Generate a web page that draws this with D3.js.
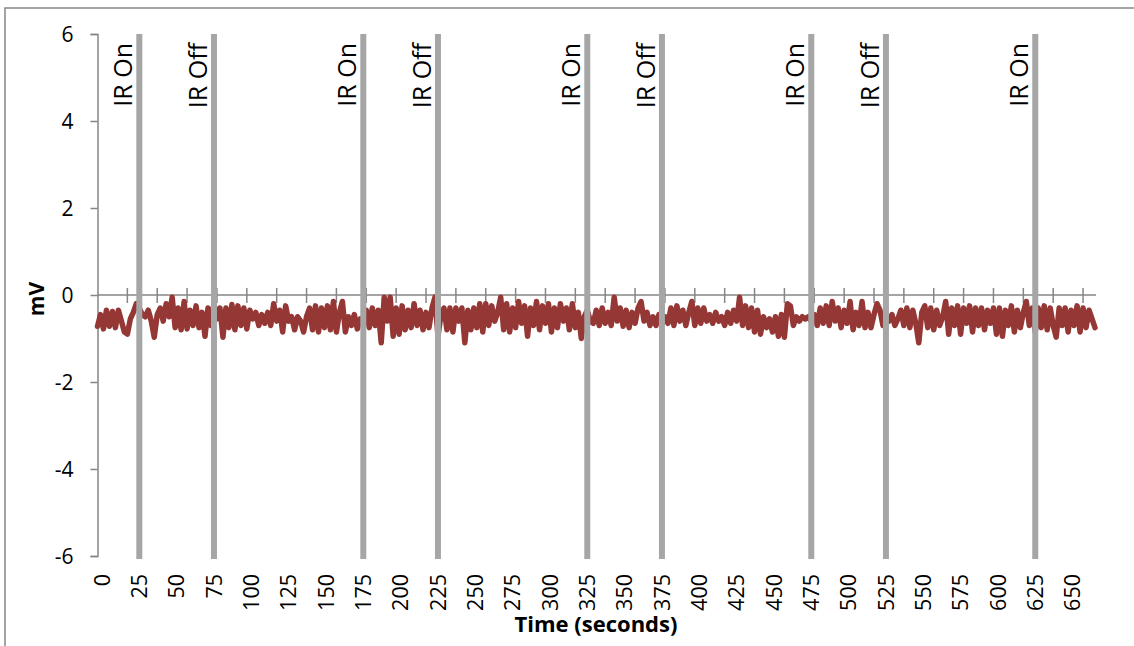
<!DOCTYPE html>
<html>
<head>
<meta charset="utf-8">
<script src="https://cdn.jsdelivr.net/npm/d3@7"></script>
<style>
  html, body { margin: 0; padding: 0; background: #ffffff; }
  svg { display: block; }
  text { font-family: "Open Sans", "Liberation Sans", sans-serif; fill: #000; }
</style>
</head>
<body>
<svg id="chart" width="1134" height="646"></svg>
<script>
// ---- data ----
const sampleStart = -3;   // seconds, first sample
const sampleStep = 2;     // seconds between samples
const mvValues = [
  -0.72,-0.45,-0.78,-0.35,-0.72,-0.38,-0.75,-0.35,-0.6,-0.85,-0.9,-0.55,
  -0.4,-0.2,-0.3,-0.45,-0.5,-0.35,-0.6,-0.97,-0.45,-0.3,
  -0.6,-0.2,-0.5,-0.05,-0.75,-0.3,-0.8,-0.15,-0.78,-0.35,
  -0.7,-0.25,-0.75,-0.4,-0.95,-0.3,-0.7,-0.2,-0.55,-0.3,
  -0.97,-0.3,-0.75,-0.22,-0.8,-0.25,-0.7,-0.3,-0.78,-0.35,
  -0.55,-0.4,-0.7,-0.45,-0.65,-0.4,-0.7,-0.2,-0.6,-0.35,
  -0.85,-0.25,-0.6,-0.5,-0.8,-0.5,-0.6,-0.85,-0.5,-0.3,
  -0.8,-0.25,-0.85,-0.3,-0.75,-0.25,-0.8,-0.15,-0.85,-0.4,-0.15,-0.85,
  -0.5,-0.7,-0.45,-0.78,-0.55,-0.7,-0.35,-0.75,-0.3,-0.7,
  -0.35,-1.1,-0.05,-0.6,-0.05,-0.95,-0.3,-0.9,-0.25,-0.8,
  -0.35,-0.75,-0.2,-0.7,-0.35,-0.8,-0.4,-0.75,-0.3,-0.05,
  -0.95,-0.45,-0.3,-0.8,-0.3,-0.85,-0.3,-0.6,-0.3,-1.1,
  -0.35,-0.8,-0.3,-0.75,-0.2,-0.85,-0.2,-0.7,-0.25,-0.6,
  -0.4,-0.05,-0.8,-0.2,-0.85,-0.3,-0.75,-0.15,-0.65,-0.25,
  -0.95,-0.3,-0.7,-0.15,-0.8,-0.25,-0.65,-0.2,-0.85,-0.3,
  -0.75,-0.2,-0.6,-0.3,-0.8,-0.2,-0.75,-0.4,-1.0,-0.5,
  -0.35,-0.6,
  -0.65,-0.35,-0.7,-0.3,-0.65,-0.4,-0.7,-0.05,-0.6,-0.3,
  -0.72,-0.35,-0.75,-0.4,-0.65,-0.3,-0.15,-0.6,-0.4,-0.7,
  -0.5,-0.7,-0.45,-0.6,-0.5,-0.65,-0.3,-0.7,-0.25,-0.6,
  -0.35,-0.7,-0.4,-0.15,-0.7,-0.3,-0.65,-0.3,-0.6,-0.45,
  -0.65,-0.4,-0.6,-0.5,-0.7,-0.4,-0.65,-0.35,-0.6,-0.05,
  -0.7,-0.25,-0.75,-0.3,-0.85,-0.35,-0.9,-0.5,-0.75,-0.55,
  -0.85,-0.5,-0.95,-0.45,-0.97,-0.2,-0.25,-0.7,-0.5,-0.6,
  -0.5,-0.55,-0.5,-0.6,-0.45,-0.7,-0.3,-0.65,-0.25,-0.7,
  -0.15,-0.6,-0.3,-0.75,-0.35,
  -0.65,-0.15,-0.8,-0.4,-0.7,-0.15,-0.75,-0.4,-0.75,-0.45,
  -0.2,-0.35,-0.7,-0.55,-0.6,-0.45,-0.7,-0.55,-0.35,-0.7,
  -0.3,-0.75,-0.35,-0.65,-1.1,-0.4,-0.25,-0.75,-0.3,-0.8,
  -0.35,-0.7,-0.5,-0.15,-0.9,-0.3,-0.7,-0.25,-0.9,-0.3,
  -0.65,-0.25,-0.85,-0.3,-0.7,-0.3,-0.8,-0.35,-0.65,-0.3,
  -0.9,-0.3,-0.95,-0.35,-0.7,-0.25,-0.85,-0.35,-0.75,-0.4,
  -0.15,-0.7,-0.3,-0.85,-0.3,-0.75,-0.25,-0.8,-0.3,-0.7,
  -0.97,-0.3,-0.7,-0.3,-0.85,-0.35,-0.7,-0.25,-0.85,-0.3,
  -0.75,-0.35,-0.55,-0.75
];
const xTickLabels = [0,25,50,75,100,125,150,175,200,225,250,275,300,325,350,375,400,425,450,475,500,525,550,575,600,625,650];
const yTickValues = [-6,-4,-2,0,2,4,6];
const irTimes  = [25, 75, 175, 225, 325, 375, 475, 525, 625];
const irLabels = ["IR On","IR Off","IR On","IR Off","IR On","IR Off","IR On","IR Off","IR On"];
const xTitle = "Time (seconds)";
const yTitle = "mV";

// ---- layout ----
const svg = d3.select("#chart");
const plot = { left: 97.5, right: 1095, top: 34, bottom: 556 };
const timeEnd = sampleStart + sampleStep * (mvValues.length - 1);

const x = d3.scaleLinear().domain([sampleStart, timeEnd]).range([plot.left, plot.right]);
const y = d3.scaleLinear().domain([-6, 6]).range([plot.bottom, plot.top]);

const axisColor = "#868686";

// outer chart border (right/bottom edges fall outside the window)
svg.append("rect")
  .attr("x", 5).attr("y", 8).attr("width", 1300).attr("height", 800)
  .attr("fill", "none").attr("stroke", axisColor).attr("stroke-width", 1.5);

// y axis
const yAxis = d3.axisLeft(y).tickValues(yTickValues).tickSize(7).tickPadding(17)
  .tickFormat(d => String(d));
const gy = svg.append("g").attr("transform", `translate(${plot.left},0)`).call(yAxis);
gy.select(".domain").attr("stroke", axisColor).attr("stroke-width", 1.5);
gy.selectAll(".tick line").attr("stroke", axisColor).attr("stroke-width", 1.5);
gy.selectAll(".tick text").style("font-size", "21px").attr("fill", "#000").attr("dy", "0.36em");

// x axis line at y = 0
const y0 = y(0);
svg.append("line")
  .attr("x1", plot.left).attr("x2", plot.right + 1)
  .attr("y1", y0).attr("y2", y0)
  .attr("stroke", axisColor).attr("stroke-width", 1.5);

// crossing tick marks every 20 s along the zero line
const tickTimes = d3.range(sampleStart + 20, timeEnd, 20);
svg.append("g").selectAll("line").data(tickTimes).join("line")
  .attr("x1", d => x(d)).attr("x2", d => x(d))
  .attr("y1", y0 - 7).attr("y2", y0 + 8)
  .attr("stroke", axisColor).attr("stroke-width", 1.5);

// x tick labels, rotated, below the plot
svg.append("g").selectAll("text").data(xTickLabels).join("text")
  .attr("transform", d => `translate(${x(d)},${plot.bottom + 18}) rotate(-90)`)
  .attr("text-anchor", "end")
  .attr("dy", "0.36em")
  .style("font-size", "21.5px")
  .text(d => d);

// data line
const line = d3.line()
  .x((d, i) => x(sampleStart + i * sampleStep))
  .y(d => y(d));
svg.append("path")
  .datum(mvValues)
  .attr("d", line)
  .attr("fill", "none")
  .attr("stroke", "#953735")
  .attr("stroke-width", 5.5)
  .attr("stroke-linejoin", "round")
  .attr("stroke-linecap", "round");

// IR marker lines
svg.append("g").selectAll("line").data(irTimes).join("line")
  .attr("x1", d => x(d)).attr("x2", d => x(d))
  .attr("y1", plot.top).attr("y2", plot.bottom + 3)
  .attr("stroke", "#a6a6a6").attr("stroke-width", 6);

// IR labels
svg.append("g").selectAll("text").data(irTimes).join("text")
  .attr("transform", d => `translate(${x(d) - 7},${plot.top + 9}) rotate(-90)`)
  .attr("text-anchor", "end")
  .style("font-size", "25px")
  .text((d, i) => irLabels[i]);

// axis titles
svg.append("text")
  .attr("x", 596).attr("y", 632)
  .attr("text-anchor", "middle")
  .style("font-size", "22px").style("font-weight", "bold")
  .text(xTitle);

svg.append("text")
  .attr("transform", `translate(36,299) rotate(-90)`)
  .attr("text-anchor", "middle")
  .attr("dy", "0.36em")
  .style("font-size", "21px").style("font-weight", "bold")
  .text(yTitle);
</script>
</body>
</html>
